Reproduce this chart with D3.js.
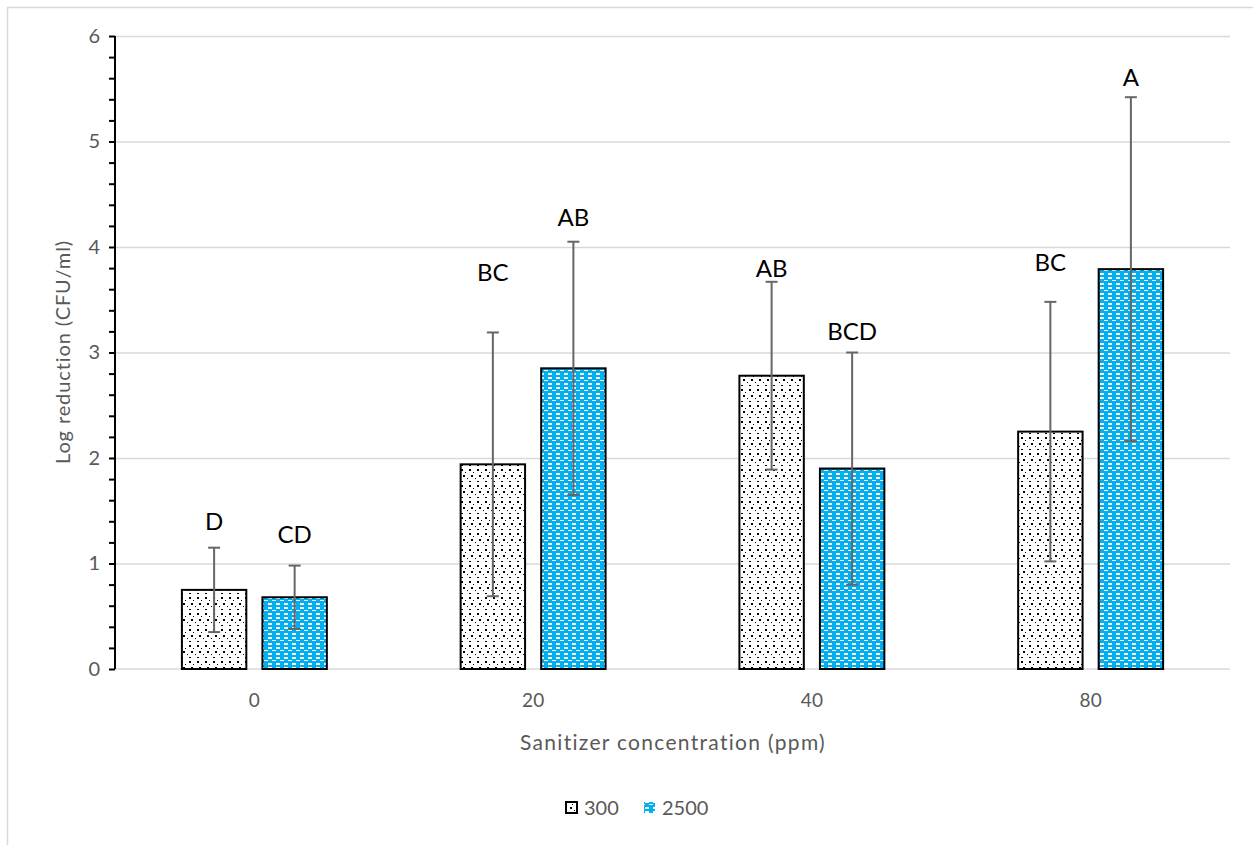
<!DOCTYPE html>
<meta charset="utf-8">
<style>
body { margin: 0; background: #fff; }
svg text { font-family: Lato, "Open Sans", sans-serif; }
.grid line { stroke: #d9d9d9; stroke-width: 1.5px; }
.grid path { stroke-width: 0; }
</style>
<body>
<script src="https://d3js.org/d3.v7.min.js"></script>
<script>

// data
var categories = ["0", "20", "40", "80"];
var seriesNames = ["300", "2500"];
var values300 = [0.75, 1.94, 2.78, 2.25];
var values2500 = [0.68, 2.85, 1.90, 3.79];
var err300 = [0.40, 1.25, 0.89, 1.23];
var err2500 = [0.30, 1.20, 1.10, 1.63];
var letters300 = ["D", "BC", "AB", "BC"];
var letters2500 = ["CD", "AB", "BCD", "A"];
var letterY300 = [1.40, 3.76, 3.80, 3.85];
var letterY2500 = [1.27, 4.28, 3.20, 5.61];
var yTicks = [0, 1, 2, 3, 4, 5, 6];

var width = 1253, height = 845;
var margin = {top: 36, right: 23, bottom: 176, left: 115};

var svg = d3.select("body").append("svg")
    .attr("width", width)
    .attr("height", height);

// chart border
svg.append("rect")
    .attr("x", 7.5).attr("y", 7.5)
    .attr("width", width + 20).attr("height", height + 20)
    .attr("fill", "none").attr("stroke", "#d9d9d9").attr("stroke-width", 1.5);

var defs = svg.append("defs");

// dotted pattern for 300
var p1 = defs.append("pattern")
    .attr("id", "dots").attr("patternUnits", "userSpaceOnUse")
    .attr("width", 16).attr("height", 16);
p1.append("rect").attr("width", 16).attr("height", 16).attr("fill", "#fff");
[[2,1,2,2],[10,1,2,2],[6,4,1,1],[14,4,1,1],[4,7,2,2],[12,7,2,2],[0,10,1,1],[8,10,1,1],[2,13,2,1],[10,13,2,1]].forEach(function(d) {
  p1.append("rect").attr("x", d[0]).attr("y", d[1]).attr("width", d[2]).attr("height", d[3]).attr("fill", "#000");
});

// dashes pattern for 2500
var p2 = defs.append("pattern")
    .attr("id", "dashes").attr("patternUnits", "userSpaceOnUse")
    .attr("width", 16).attr("height", 10);
p2.append("rect").attr("width", 16).attr("height", 10).attr("fill", "#00b0f0");
[[1,1,4,2],[9,1,4,2],[5,4,4,1],[13,4,3,1],[0,4,1,1],[1,7,4,2],[9,7,4,2]].forEach(function(d) {
  p2.append("rect").attr("x", d[0]).attr("y", d[1]).attr("width", d[2]).attr("height", d[3]).attr("fill", "#fff");
});

var g = svg.append("g")
    .attr("transform", "translate(" + margin.left + "," + margin.top + ")");

var w = width - margin.left - margin.right,
    h = height - margin.top - margin.bottom;

var x = d3.scaleBand().domain(categories).range([0, w]).padding(0);
var y = d3.scaleLinear().domain([0, 6]).range([h, 0]);
var xs = d3.scaleBand().domain(seriesNames).range([x.bandwidth() * 0.24, x.bandwidth() * 0.76]).paddingInner(0.2);

// gridlines
g.append("g")
    .attr("class", "grid")
    .call(d3.axisLeft(y).tickValues(yTicks.slice(1)).tickSize(-w).tickFormat(""));

// x axis line
g.append("line")
    .attr("x1", 0).attr("x2", w).attr("y1", y(0)).attr("y2", y(0))
    .attr("stroke", "#d9d9d9").attr("stroke-width", 1.5);

var rows = categories.map(function(c, i) {
  return [
    {cat: c, s: "300", v: values300[i], e: err300[i], l: letters300[i], ly: letterY300[i]},
    {cat: c, s: "2500", v: values2500[i], e: err2500[i], l: letters2500[i], ly: letterY2500[i]}
  ];
});
var flat = [].concat.apply([], rows);

var bars = g.selectAll(".bar").data(flat).enter().append("rect")
    .attr("class", "bar")
    .attr("x", function(d) { return x(d.cat) + xs(d.s); })
    .attr("y", function(d) { return y(d.v); })
    .attr("width", xs.bandwidth())
    .attr("height", function(d) { return y(0) - y(d.v); })
    .attr("fill", function(d) { return d.s == "300" ? "url(#dots)" : "url(#dashes)"; })
    .attr("stroke", "#000")
    .attr("stroke-width", 2);

// error bars
var eb = g.selectAll(".err").data(flat).enter().append("g").attr("class", "err")
    .attr("stroke", "#666").attr("stroke-width", 2);
function cx(d) { return x(d.cat) + xs(d.s) + xs.bandwidth() / 2; }
eb.append("line")
    .attr("x1", cx).attr("x2", cx)
    .attr("y1", function(d) { return y(d.v + d.e); })
    .attr("y2", function(d) { return y(d.v - d.e); });
eb.append("line")
    .attr("x1", function(d) { return cx(d) - 6; }).attr("x2", function(d) { return cx(d) + 6; })
    .attr("y1", function(d) { return y(d.v + d.e); }).attr("y2", function(d) { return y(d.v + d.e); });
eb.append("line")
    .attr("x1", function(d) { return cx(d) - 6; }).attr("x2", function(d) { return cx(d) + 6; })
    .attr("y1", function(d) { return y(d.v - d.e); }).attr("y2", function(d) { return y(d.v - d.e); });

// letters
g.selectAll(".lab").data(flat).enter().append("text")
    .attr("class", "lab")
    .attr("x", cx)
    .attr("y", function(d) { return y(d.ly); })
    .attr("dy", "0.35em")
    .attr("text-anchor", "middle")
    .attr("font-size", 24)
    .attr("fill", "#000")
    .text(function(d) { return d.l; });

// y axis with minor ticks
var yAxis = g.append("g")
    .call(d3.axisLeft(y).tickValues(d3.range(0, 6.01, 0.2)).tickSize(6).tickFormat(""));
yAxis.selectAll("line").attr("stroke", "#000").attr("stroke-width", 2);
yAxis.select("path").attr("stroke", "#000").attr("stroke-width", 2).attr("d", "M0," + y(6) + "V" + y(0));

var yLab = g.append("g")
    .call(d3.axisLeft(y).tickValues(yTicks).tickSize(0).tickPadding(15).tickFormat(d3.format("d")));
yLab.select("path").remove();
yLab.selectAll("text").attr("font-size", 20).attr("fill", "#595959")
    .style("font-family", "Lato, 'Open Sans', sans-serif");

// x axis labels
var xAxis = g.append("g")
    .attr("transform", "translate(0," + h + ")")
    .call(d3.axisBottom(x).tickSize(0).tickPadding(25));
xAxis.select("path").remove();
xAxis.selectAll("text").attr("font-size", 19).attr("fill", "#595959")
    .style("font-family", "Lato, 'Open Sans', sans-serif");

// axis titles
svg.append("text")
    .attr("x", 673).attr("y", 750)
    .attr("text-anchor", "middle")
    .attr("font-size", 21).attr("fill", "#595959")
    .attr("letter-spacing", 1.3)
    .text("Sanitizer concentration (ppm)");

svg.append("text")
    .attr("transform", "translate(70," + 352 + ") rotate(-90)")
    .attr("text-anchor", "middle")
    .attr("font-size", 20).attr("fill", "#595959")
    .attr("letter-spacing", 0.9)
    .text("Log reduction (CFU/ml)");

// legend
var legend = svg.append("g").attr("transform", "translate(566,800)");
var lx = [0, 78];
seriesNames.forEach(function(s, i) {
  var lg = legend.append("g").attr("transform", "translate(" + lx[i] + ",0)");
  lg.append("rect").attr("x", 0).attr("y", 2).attr("width", 11).attr("height", 11)
    .attr("fill", i == 0 ? "url(#dots)" : "url(#dashes)")
    .attr("stroke", i == 0 ? "#000" : "none").attr("stroke-width", 2);
  lg.append("text").attr("x", 18).attr("y", 8).attr("dy", "0.35em")
    .attr("font-size", 20).attr("fill", "#595959").text(s);
});

</script>
</body>
